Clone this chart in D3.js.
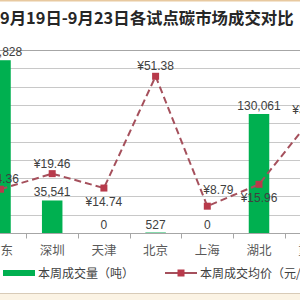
<!DOCTYPE html>
<html>
<head>
<meta charset="utf-8">
<script src="https://cdn.jsdelivr.net/npm/d3@7"></script>
<style>
  body { margin: 0; background: #fff; }
  svg { display: block; font-family: "Liberation Sans", "Noto Sans CJK SC", sans-serif; }
</style>
</head>
<body>
<svg id="chart" width="300" height="300"></svg>
<script>
// data
var categories = ['广东', '深圳', '天津', '北京', '上海', '湖北', '重庆'];
var volume = [188828, 35541, 0, 527, 0, 130061, 0];
var price = [14.36, 19.46, 14.74, 51.38, 8.79, 15.96, 37.20];
var volumeLabels = ['188,828', '35,541', '0', '527', '0', '130,061', ''];
var priceLabels = ['¥14.36', '¥19.46', '¥14.74', '¥51.38', '¥8.79', '¥15.96', '¥37.20'];
// where the price label sits relative to its point: -1 above, 1 below
var priceLabelPos = [-1, -1, 1, -1, -1, 1, -1];
var gridTicks = d3.range(0, 11);

var svg = d3.select('#chart');
var plotBase = 233, plotTop = 50, step = 51.7;

var x = d3.scaleBand()
  .domain(categories)
  .range([0.5 - step / 2, 0.5 - step / 2 + step * categories.length]);
var yBar = d3.scaleLinear().domain([0, 200000]).range([plotBase, plotTop]);
var yLine = d3.scaleLinear().domain([0, 60]).range([plotBase, plotTop]);
var cx = d => x(d) + x.bandwidth() / 2;

// frame bits
svg.append('rect').attr('x', 0).attr('y', 0).attr('width', 300).attr('height', 1.5).style('fill', '#e8c9a0');
svg.append('rect').attr('x', 0).attr('y', 294).attr('width', 300).attr('height', 6).style('fill', '#fbf3e4');
svg.append('line').attr('x1', 0).attr('x2', 300).attr('y1', 293.5).attr('y2', 293.5).style('stroke', '#d8cbb8');

// title
svg.append('text')
  .attr('x', 0).attr('y', 24)
  .style('font-family', '"Noto Sans CJK SC", sans-serif')
  .style('font-size', '16.4px')
  .style('font-weight', 'bold')
  .style('fill', '#262626')
  .text('9月19日-9月23日各试点碳市场成交对比');

// gridlines
svg.append('g').selectAll('line')
  .data(gridTicks)
  .enter()
  .append('line')
  .attr('x1', 0).attr('x2', 300)
  .attr('y1', d => Math.round(yBar(d * 20000)) + 0.5)
  .attr('y2', d => Math.round(yBar(d * 20000)) + 0.5)
  .style('stroke', (d, i) => i == 10 ? '#a6a6a6' : '#c8c8c8')
  .style('stroke-width', 1);

// x axis with tick marks at band edges
var xAxis = svg.append('g')
  .attr('transform', `translate(0,${plotBase + 0.5})`)
  .call(d3.axisBottom(x).tickSize(0).tickPadding(0).tickFormat(''));
xAxis.select('.domain').remove();
xAxis.append('line').attr('x1', 0).attr('x2', 300).style('stroke', '#a6a6a6');
xAxis.selectAll('.edge')
  .data(categories)
  .enter()
  .append('line')
  .attr('x1', d => Math.round(x(d) + step) + 0.5)
  .attr('x2', d => Math.round(x(d) + step) + 0.5)
  .attr('y1', 0).attr('y2', 5)
  .style('stroke', '#a6a6a6');

svg.append('g').selectAll('text')
  .data(categories)
  .enter()
  .append('text')
  .attr('x', d => cx(d))
  .attr('y', 255)
  .attr('text-anchor', 'middle')
  .style('font-family', '"Noto Sans CJK SC", sans-serif')
  .style('font-size', '12.5px')
  .style('fill', '#595959')
  .text(d => d);

// bars
var barW = 20.5;
svg.append('g').selectAll('rect')
  .data(volume)
  .enter()
  .append('rect')
  .attr('x', (d, i) => cx(categories[i]) - barW / 2)
  .attr('y', d => yBar(d))
  .attr('width', barW)
  .attr('height', d => plotBase - yBar(d))
  .style('fill', '#00b050');

svg.append('g').selectAll('text')
  .data(volume)
  .enter()
  .append('text')
  .attr('x', (d, i) => cx(categories[i]))
  .attr('y', d => yBar(d) - 4)
  .attr('text-anchor', 'middle')
  .style('font-size', '12px')
  .style('fill', '#404040')
  .text((d, i) => volumeLabels[i]);

// price line
var line = d3.line()
  .x((d, i) => cx(categories[i]))
  .y(d => yLine(d));
svg.append('path')
  .datum(price)
  .attr('d', line)
  .style('fill', 'none')
  .style('stroke', '#a5505c')
  .style('stroke-width', 2)
  .style('stroke-dasharray', '7,4');

svg.append('g').selectAll('rect')
  .data(price)
  .enter()
  .append('rect')
  .attr('x', (d, i) => cx(categories[i]) - 3.5)
  .attr('y', d => yLine(d) - 3.5)
  .attr('width', 7).attr('height', 7)
  .style('fill', '#b83a4b');

svg.append('g').selectAll('text')
  .data(price)
  .enter()
  .append('text')
  .attr('x', (d, i) => cx(categories[i]) + (i == 4 ? 11 : 0))
  .attr('y', (d, i) => yLine(d) + (priceLabelPos[i] < 0 ? (i == 4 ? -12 : -6) : 18))
  .attr('text-anchor', 'middle')
  .style('font-size', '12px')
  .style('fill', '#404040')
  .text((d, i) => priceLabels[i]);

// legend
var leg = svg.append('g').style('font-family', '"Noto Sans CJK SC", sans-serif');
leg.append('rect').attr('x', 3).attr('y', 270).attr('width', 32).attr('height', 6).style('fill', '#00b050');
leg.append('text').attr('x', 38).attr('y', 277.5)
  .style('font-size', '12px').style('fill', '#404040').text('本周成交量（吨）');
leg.append('line').attr('x1', 165).attr('x2', 197).attr('y1', 273).attr('y2', 273)
  .style('stroke', '#a5505c').style('stroke-width', 2);
leg.append('rect').attr('x', 177.5).attr('y', 269.5).attr('width', 7).attr('height', 7).style('fill', '#b83a4b');
leg.append('text').attr('x', 200).attr('y', 277.5)
  .style('font-size', '12px').style('fill', '#404040').text('本周成交均价（元/吨）');
</script>
</body>
</html>
